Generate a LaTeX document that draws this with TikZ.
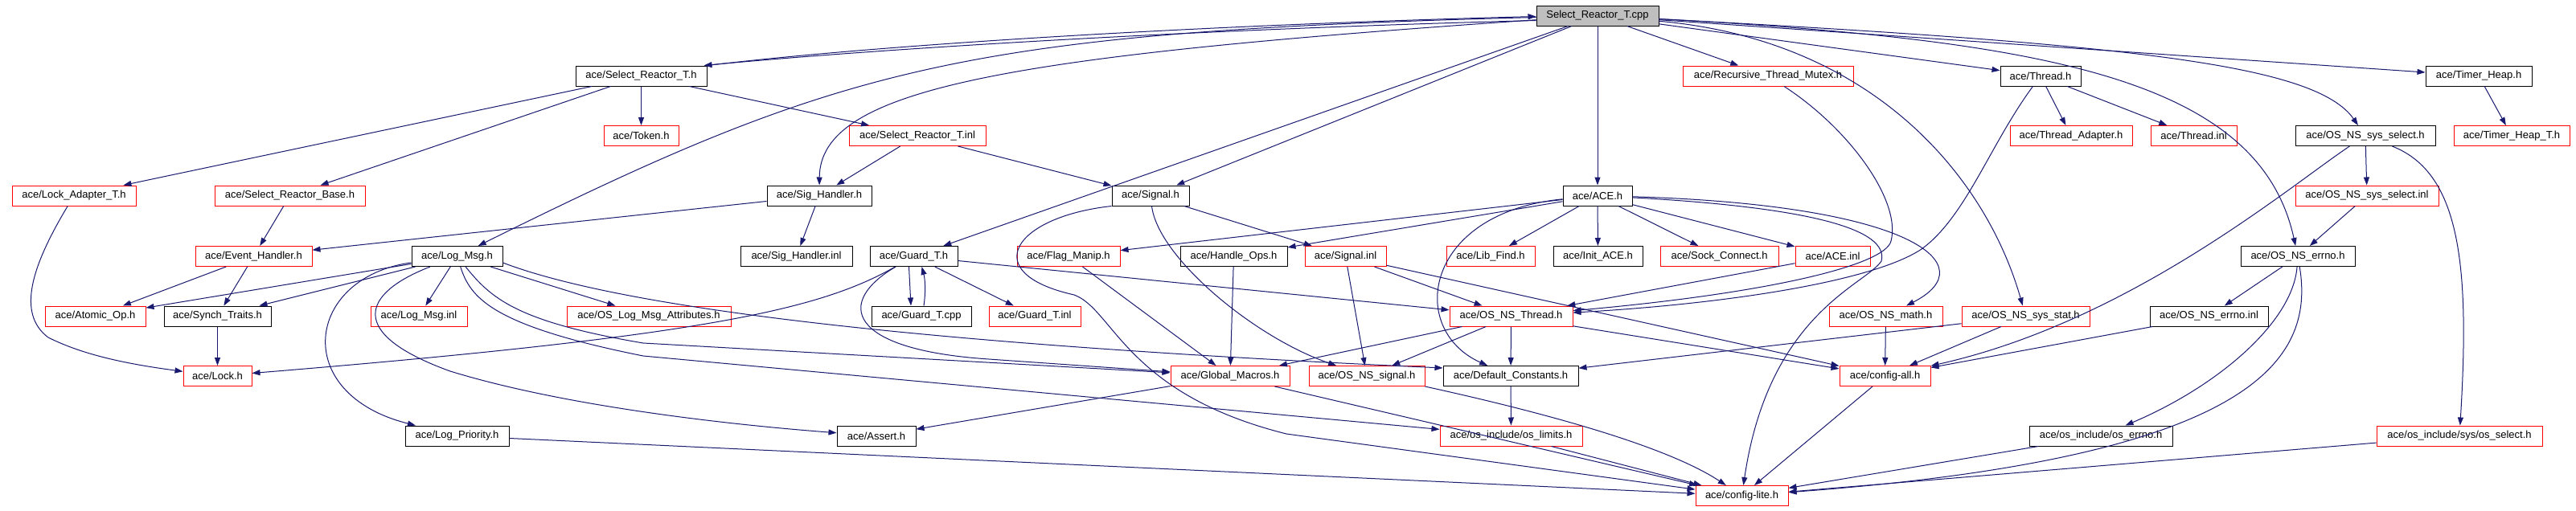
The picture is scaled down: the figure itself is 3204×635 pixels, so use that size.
\documentclass[tikz,border=0pt]{standalone}
\usepackage{fontspec}
\setmainfont{Liberation Sans}
\usetikzlibrary{arrows.meta}
\definecolor{edgeblue}{HTML}{191970}
\definecolor{boxred}{HTML}{FF0000}
\definecolor{cppgray}{HTML}{BFBFBF}
\begin{document}
\begin{tikzpicture}[x=1pt,y=-1pt,
  nd/.style={draw=black, fill=white, line width=1pt, minimum height=25pt, inner sep=0pt, font=\fontsize{13}{15}\selectfont},
  rd/.style={nd, draw=boxred},
  dep/.style={draw=edgeblue, line width=1pt, -{Triangle[length=10pt,width=7pt]}}]
\fill[white] (0,0) rectangle (3204,635);
\useasboundingbox (0,0) rectangle (3204,635);
% rank 1
\node[nd, fill=cppgray, minimum width=152pt] (cpp) at (1987,19.5) {Select\_Reactor\_T.cpp};
% rank 2
\node[nd, minimum width=163pt] (srth) at (797.5,94.5) {ace/Select\_Reactor\_T.h};
\node[rd, minimum width=212pt] (rtm) at (2199,94.5) {ace/Recursive\_Thread\_Mutex.h};
\node[nd, minimum width=100pt] (thread) at (2538,94.5) {ace/Thread.h};
\node[nd, minimum width=132pt] (timerheap) at (3083,94.5) {ace/Timer\_Heap.h};
% rank 3
\node[rd, minimum width=93pt] (token) at (797.5,169) {ace/Token.h};
\node[rd, minimum width=170pt] (srtinl) at (1141,169) {ace/Select\_Reactor\_T.inl};
\node[rd, minimum width=152pt] (threadadapter) at (2576,169) {ace/Thread\_Adapter.h};
\node[rd, minimum width=107pt] (threadinl) at (2728.5,169) {ace/Thread.inl};
\node[nd, minimum width=174pt] (sysselect) at (2942,169) {ace/OS\_NS\_sys\_select.h};
\node[rd, minimum width=144pt] (timerheapT) at (3124,169) {ace/Timer\_Heap\_T.h};
% rank 4
\node[rd, minimum width=154pt] (lockadapter) at (92,243.5) {ace/Lock\_Adapter\_T.h};
\node[rd, minimum width=187pt] (srbase) at (360.5,243.5) {ace/Select\_Reactor\_Base.h};
\node[nd, minimum width=130pt] (sighandler) at (1019,243.5) {ace/Sig\_Handler.h};
\node[nd, minimum width=96pt] (signal) at (1431,243.5) {ace/Signal.h};
\node[nd, minimum width=86pt] (ace) at (1987,243.5) {ace/ACE.h};
\node[rd, minimum width=178pt] (sysselectinl) at (2944,243.5) {ace/OS\_NS\_sys\_select.inl};
% rank 5
\node[rd, minimum width=145pt] (eventhandler) at (315.5,319) {ace/Event\_Handler.h};
\node[nd, minimum width=113pt] (logmsg) at (568.5,319) {ace/Log\_Msg.h};
\node[nd, minimum width=139pt] (sighandlerinl) at (990.5,319) {ace/Sig\_Handler.inl};
\node[nd, minimum width=109pt] (guardh) at (1136.5,319) {ace/Guard\_T.h};
\node[rd, minimum width=128pt] (flagmanip) at (1329,319) {ace/Flag\_Manip.h};
\node[nd, minimum width=133pt] (handleops) at (1534.5,319) {ace/Handle\_Ops.h};
\node[rd, minimum width=101pt] (signalinl) at (1673.5,319) {ace/Signal.inl};
\node[rd, minimum width=110pt] (libfind) at (1854,319) {ace/Lib\_Find.h};
\node[nd, minimum width=111pt] (initace) at (1987.5,319) {ace/Init\_ACE.h};
\node[rd, minimum width=147pt] (sockconnect) at (2138.5,319) {ace/Sock\_Connect.h};
\node[rd, minimum width=93pt] (aceinl) at (2279.5,319) {ace/ACE.inl};
\node[nd, minimum width=142pt] (errnoh) at (2858,319) {ace/OS\_NS\_errno.h};
% rank 6
\node[rd, minimum width=125pt] (atomicop) at (118.5,393.5) {ace/Atomic\_Op.h};
\node[nd, minimum width=133pt] (synchtraits) at (270.5,393.5) {ace/Synch\_Traits.h};
\node[rd, minimum width=120pt] (logmsginl) at (521,393.5) {ace/Log\_Msg.inl};
\node[rd, minimum width=204pt] (oslogattr) at (807,393.5) {ace/OS\_Log\_Msg\_Attributes.h};
\node[nd, minimum width=124pt] (guardcpp) at (1146,393.5) {ace/Guard\_T.cpp};
\node[rd, minimum width=114pt] (guardinl) at (1287,393.5) {ace/Guard\_T.inl};
\node[rd, minimum width=153pt] (osthread) at (1879.5,393.5) {ace/OS\_NS\_Thread.h};
\node[rd, minimum width=141pt] (osmath) at (2345.5,393.5) {ace/OS\_NS\_math.h};
\node[rd, minimum width=159pt] (sysstat) at (2519.5,393.5) {ace/OS\_NS\_sys\_stat.h};
\node[nd, minimum width=147pt] (errnoinl) at (2747.5,393.5) {ace/OS\_NS\_errno.inl};
% rank 7
\node[rd, minimum width=85pt] (lock) at (270.5,468) {ace/Lock.h};
\node[rd, minimum width=148pt] (globalmacros) at (1530,468) {ace/Global\_Macros.h};
\node[rd, minimum width=144pt] (ossignal) at (1700,468) {ace/OS\_NS\_signal.h};
\node[nd, minimum width=168pt] (defconst) at (1879,468) {ace/Default\_Constants.h};
\node[rd, minimum width=113pt] (configall) at (2344.5,468) {ace/config-all.h};
% rank 8
\node[nd, minimum width=129pt] (logpriority) at (568.5,542.5) {ace/Log\_Priority.h};
\node[nd, minimum width=98pt] (assert) at (1090,542.5) {ace/Assert.h};
\node[rd, minimum width=177pt] (oslimits) at (1879.5,542.5) {ace/os\_include/os\_limits.h};
\node[nd, minimum width=178pt] (oserrno) at (2613,542.5) {ace/os\_include/os\_errno.h};
\node[rd, minimum width=206pt] (osselect) at (3059,542.5) {ace/os\_include/sys/os\_select.h};
% rank 9
\node[rd, minimum width=115pt] (configlite) at (2166.5,617) {ace/config-lite.h};

% ---- edges from Select_Reactor_T.cpp
\draw[dep] ([yshift=-6pt]cpp.west) .. controls (1500,36) and (1100,60) .. ([xshift=-4pt]srth.north east);
\draw[dep] (srth.north east) .. controls (1100,55) and (1500,31) .. ([yshift=-1pt]cpp.west);
\draw[dep] (cpp) -- (rtm);
\draw[dep] (cpp) -- (ace);
\draw[dep] (cpp) -- (thread);
\draw[dep] (cpp) -- (timerheap);
\draw[dep] (cpp) .. controls (2650,55) and (2880,80) .. (sysselect);
\draw[dep] (cpp) .. controls (2550,50) and (2810,100) .. (errnoh);
\draw[dep] (cpp) .. controls (2330,50) and (2470,220) .. (sysstat);
\draw[dep] (cpp) .. controls (1250,70) and (1020,110) .. (sighandler);
\draw[dep] (cpp) .. controls (1200,40) and (1050,80) .. (logmsg);
\draw[dep] (cpp) -- (guardh);
\draw[dep] (cpp) -- (signal);

% ---- Select_Reactor_T.h and friends
\draw[dep] (srth) -- (token);
\draw[dep] (srth) -- (lockadapter);
\draw[dep] (srth) -- (srbase);
\draw[dep] (srth) -- (srtinl);
\draw[dep] (srtinl) -- (sighandler);
\draw[dep] (srtinl) -- (signal);
\draw[dep] (srbase) -- (eventhandler);
\draw[dep] (lockadapter) .. controls (40,330) and (20,390) .. (60,420) .. controls (100,440) and (150,452) .. (lock);
\draw[dep] (eventhandler) -- (atomicop);
\draw[dep] (eventhandler) -- (synchtraits);
\draw[dep] (synchtraits) -- (lock);
\draw[dep] (sighandler) -- (eventhandler);
\draw[dep] (sighandler) -- (sighandlerinl);

% ---- Log_Msg.h
\draw[dep] (logmsg) -- (atomicop);
\draw[dep] (logmsg) -- (synchtraits);
\draw[dep] (logmsg) -- (logmsginl);
\draw[dep] (logmsg) -- (oslogattr);
\draw[dep] (logmsg) .. controls (380,345) and (360,490) .. (logpriority);
\draw[dep] (logmsg) .. controls (450,365) and (430,415) .. (560,462) .. controls (700,505) and (900,528) .. (assert);
\draw[dep] (logmsg) .. controls (585,370) and (610,405) .. (800,443) -- (oslimits);
\draw[dep] (logmsg) .. controls (610,370) and (640,400) .. (800,427) -- (globalmacros);
\draw[dep] ([yshift=-8pt]logmsg.east) .. controls (830,405) and (1400,440) .. ([yshift=10pt]defconst.west);

% ---- Guard_T.h
\draw[dep] (guardh) .. controls (1020,385) and (880,418) .. (lock);
\draw[dep] (guardh) -- (osthread);
\draw[dep] ([xshift=-6pt]guardh.south) -- ([xshift=-13pt]guardcpp.north);
\draw[dep] ([xshift=3pt]guardcpp.north) .. controls (1152,360) and (1150,345) .. ([xshift=10pt]guardh.south);
\draw[dep] (guardh) -- (guardinl);
\draw[dep] (guardh) .. controls (1040,375) and (1050,435) .. (1230,447) -- (globalmacros);

\draw[dep] (flagmanip) -- (globalmacros);
\draw[dep] (handleops) -- (globalmacros);
\draw[dep] (globalmacros) -- (assert);
\draw[dep] (globalmacros) -- (configlite);

% ---- Signal.h
\draw[dep] (signal) -- (signalinl);
\draw[dep] (signal) .. controls (1440,320) and (1560,420) .. (ossignal);
\draw[dep] (signal.south west) .. controls (1260,270) and (1215,340) .. (1336,367) .. controls (1385,385) and (1400,490) .. (1600,540) -- (configlite);
\draw[dep] (signalinl) -- (ossignal);
\draw[dep] (signalinl) -- (osthread);
\draw[dep] (signalinl) -- (configall);

% ---- ACE.h
\draw[dep] (ace) -- (flagmanip);
\draw[dep] (ace) -- (handleops);
\draw[dep] (ace) -- (libfind);
\draw[dep] (ace) -- (initace);
\draw[dep] (ace) -- (sockconnect);
\draw[dep] (ace) -- (aceinl);
\draw[dep] (ace) .. controls (1770,265) and (1750,410) .. (defconst);
\draw[dep] (ace) .. controls (2380,255) and (2470,330) .. (osmath);
\draw[dep] (ace) .. controls (2250,258) and (2350,285) .. (2340,325) .. controls (2320,355) and (2200,390) .. (configlite);
\draw[dep] (aceinl) -- (osthread);

% ---- Recursive_Thread_Mutex.h, Thread.h, Timer_Heap.h
\draw[dep] (rtm) .. controls (2300,160) and (2365,250) .. (2352,300) .. controls (2345,330) and (2200,365) .. (osthread);
\draw[dep] (thread) .. controls (2475,180) and (2445,270) .. (2390,310) .. controls (2330,350) and (2150,378) .. (osthread);
\draw[dep] (thread) -- (threadadapter);
\draw[dep] (thread) -- (threadinl);
\draw[dep] (timerheap) -- (timerheapT);

% ---- OS layer
\draw[dep] (osthread) -- (ossignal);
\draw[dep] (osthread) -- (globalmacros);
\draw[dep] (osthread) -- (defconst);
\draw[dep] (osthread) -- (configall);
\draw[dep] (osmath) -- (configall);
\draw[dep] (sysstat) -- (configall);
\draw[dep] (sysstat) -- (defconst);
\draw[dep] (defconst) -- (oslimits);
\draw[dep] (oslimits) -- (configlite);
\draw[dep] (ossignal.south east) .. controls (1950,520) and (2080,560) .. (configlite);
\draw[dep] (configall) -- (configlite);
\draw[dep] (logpriority) -- (configlite);
\draw[dep] (errnoh) -- (errnoinl);
\draw[dep] (errnoh) .. controls (2852,400) and (2760,480) .. (oserrno);
\draw[dep] (errnoh) .. controls (2880,450) and (2800,570) .. (configlite);
\draw[dep] (errnoinl) -- (configall);
\draw[dep] (sysselect) -- (sysselectinl);
\draw[dep] (sysselect) .. controls (2850,230) and (2650,400) .. (configall);
\draw[dep] (sysselect) .. controls (3060,215) and (3072,330) .. (osselect);
\draw[dep] (sysselectinl) -- (errnoh);
\draw[dep] (oserrno) -- (configlite);
\draw[dep] (osselect) -- (configlite);
\end{tikzpicture}
\end{document}
